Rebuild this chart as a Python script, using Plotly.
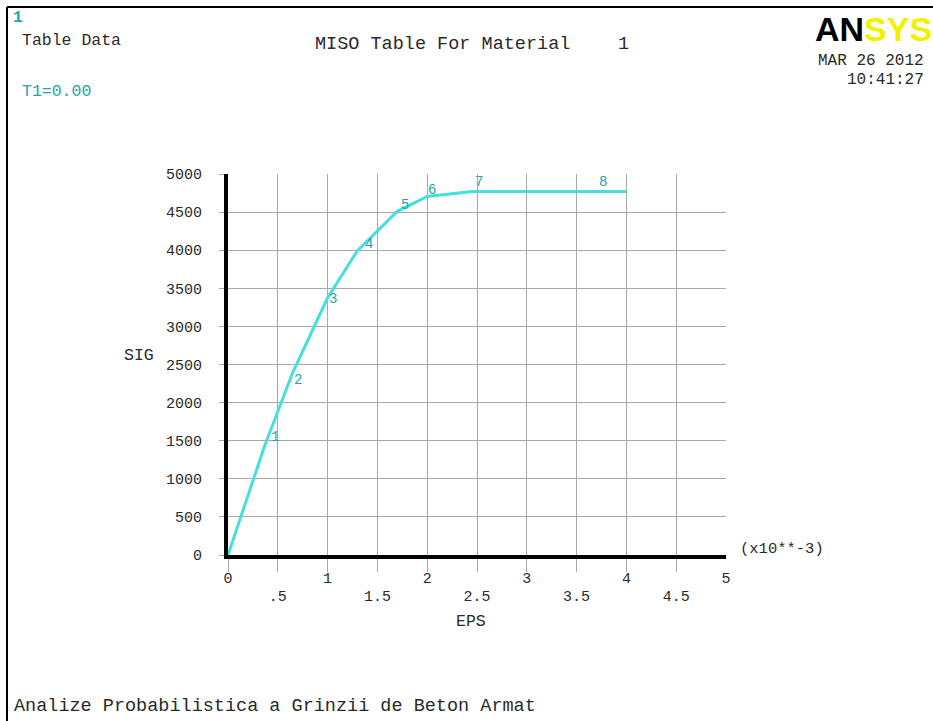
import plotly.graph_objects as go

# ---- data ----
eps = [0.0, 0.37, 0.65, 1.0, 1.3, 1.7, 2.0, 2.45, 4.0]          # x10^-3
sig = [0.0, 1440, 2395, 3375, 3995, 4510, 4705, 4770, 4770]
point_labels = ["", "1", "2", "3", "4", "5", "6", "7", "8"]
y_ticks = [0, 500, 1000, 1500, 2000, 2500, 3000, 3500, 4000, 4500, 5000]
x_int_ticks = [0, 1, 2, 3, 4, 5]
x_int_text = ["0", "1", "2", "3", "4", "5"]
x_half_ticks = [0.5, 1.5, 2.5, 3.5, 4.5]
x_half_text = [".5", "1.5", "2.5", "3.5", "4.5"]
x_grid = [0, 0.5, 1, 1.5, 2, 2.5, 3, 3.5, 4, 4.5]

# label offsets in px (style)
lab_dx = [0, 10, 5, 5, 12, 8, 5, 7, -23]
lab_dy = [0, 8, -7, -1, 7, 6, 6, 10, 10]

W, H = 933, 721
L, R, T, B = 228, 207, 174, 166
FONT = "Liberation Mono"
TXT = "#2a2a2a"
TEAL = "#1fa6a6"
CURVE = "#45e0dc"
GRID = "#a8a8a8"

def px_x(p):
    return (p - L) / (W - L - R)

def px_y(p):
    return 1 - (p - T) / (H - T - B)

fig = go.Figure()
fig.add_trace(go.Scatter(x=eps, y=sig, mode="lines",
                         line=dict(color=CURVE, width=3), hoverinfo="skip",
                         showlegend=False))
# invisible traces to activate overlay axes
fig.add_trace(go.Scatter(x=[0], y=[0], xaxis="x2", mode="markers",
                         marker=dict(opacity=0), showlegend=False, hoverinfo="skip"))
fig.add_trace(go.Scatter(x=[0], y=[0], xaxis="x3", mode="markers",
                         marker=dict(opacity=0), showlegend=False, hoverinfo="skip"))

annotations = []
for i in range(1, len(eps)):
    annotations.append(dict(x=eps[i], y=sig[i], xref="x", yref="y",
                            text=point_labels[i], showarrow=False,
                            xshift=lab_dx[i], yshift=lab_dy[i],
                            font=dict(family=FONT, size=14, color=TEAL)))

def ptext(text, x, y, size=17, color=TXT, xanchor="left", yanchor="middle", family=FONT):
    annotations.append(dict(x=px_x(x), y=px_y(y), xref="paper", yref="paper",
                            text=text, showarrow=False, xanchor=xanchor,
                            yanchor=yanchor,
                            font=dict(family=family, size=size, color=color)))

ptext("<b>1</b>", 11, 18, size=16, color=TEAL)
ptext("Table Data", 20, 41, size=16.5)
ptext("T1=0.00", 20, 91, size=16.5, color=TEAL)
ptext("MISO Table For Material", 313, 45, size=18.5)
ptext("1", 616, 45, size=18.5)
ptext("<b>AN</b><b><span style='color:#f2f200'>SYS</span></b>", 813, 29, size=34,
      color="#000000", family="Liberation Sans")
ptext("MAR 26 2012", 926, 61, size=16, xanchor="right")
ptext("10:41:27", 926, 80, size=16, xanchor="right")
ptext("SIG", 122, 355, size=16.5)
ptext("EPS", 471, 621, size=16.5, xanchor="center")
ptext("(x10**-3)", 738, 549, size=15.5)
ptext("Analize Probabilistica a Grinzii de Beton Armat", 12, 706, size=18.5)

shapes = [
    dict(type="line", xref="paper", yref="paper", x0=px_x(7), x1=px_x(W + 5),
         y0=px_y(7), y1=px_y(7), line=dict(color="#000", width=2)),
    dict(type="line", xref="paper", yref="paper", x0=px_x(7), x1=px_x(7),
         y0=px_y(7), y1=px_y(H + 5), line=dict(color="#000", width=2)),
]

tickfont = dict(family=FONT, size=15, color=TXT)
fig.update_layout(
    width=W, height=H, paper_bgcolor="white", plot_bgcolor="white",
    margin=dict(l=L, r=R, t=T, b=B),
    annotations=annotations, shapes=shapes,
    xaxis=dict(range=[0, 5], tickvals=x_grid, showticklabels=False,
               showgrid=True, gridcolor=GRID, gridwidth=1,
               ticks="outside", ticklen=13, tickcolor=GRID, tickwidth=1,
               showline=True, linecolor="#000", linewidth=4, zeroline=False),
    xaxis2=dict(range=[0, 5], overlaying="x", anchor="y", side="bottom",
                tickvals=x_int_ticks, ticktext=x_int_text, ticks="",
                showgrid=False, zeroline=False, showline=False,
                tickfont=tickfont, ticklabelstandoff=12),
    xaxis3=dict(range=[0, 5], overlaying="x", anchor="y", side="bottom",
                tickvals=x_half_ticks, ticktext=x_half_text, ticks="",
                showgrid=False, zeroline=False, showline=False,
                tickfont=tickfont, ticklabelstandoff=30),
    yaxis=dict(range=[0, 5000], tickvals=y_ticks,
               ticktext=[str(v) for v in y_ticks],
               showgrid=True, gridcolor=GRID, gridwidth=1,
               ticks="outside", ticklen=5, tickcolor=GRID,
               showline=True, linecolor="#000", linewidth=4, zeroline=False,
               tickfont=tickfont, ticklabelstandoff=14),
)

fig.write_html("out.html")
